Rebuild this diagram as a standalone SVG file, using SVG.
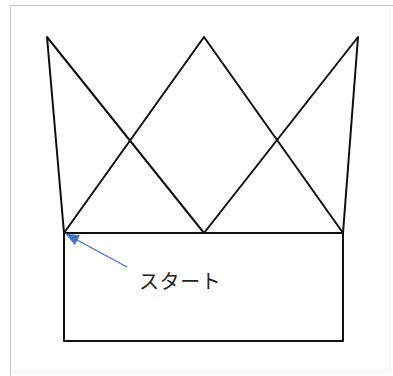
<svg xmlns="http://www.w3.org/2000/svg" width="393" height="376" viewBox="0 0 393 376">
<defs>
<style>
.ln{stroke:#111;stroke-width:2;fill:none;stroke-linecap:round;stroke-linejoin:round}
.lbl{font-family:"Noto Sans CJK JP","Noto Sans",sans-serif;font-size:20px;letter-spacing:0.6px;fill:#222}
</style>
<marker id="ah" viewBox="0 0 14 11" refX="13" refY="5.5" markerWidth="14" markerHeight="11" orient="auto" markerUnits="userSpaceOnUse">
<path d="M0,0 L14,5.5 L0,11 z" fill="#4472C4"/>
</marker>
</defs>
<rect width="393" height="376" fill="#fff"/>
<g id="frame">
<line x1="10.5" y1="5.5" x2="393" y2="5.5" stroke="#c4c4c4" stroke-width="1"/>
<line x1="10.5" y1="5.5" x2="10.5" y2="376" stroke="#c4c4c4" stroke-width="1"/>
<line x1="389.5" y1="6" x2="389.5" y2="372" stroke="#f0f0f0" stroke-width="1"/>
<line x1="11" y1="371.5" x2="389" y2="371.5" stroke="#f3f0ec" stroke-width="1"/>
</g>
<g id="crown">
<polyline class="ln" points="64,233 47,37 204,233 358,37 343,233"/>
<polyline class="ln" points="64,233 204,37 343,233"/>
<line class="ln" x1="64" y1="233" x2="343" y2="233"/>
</g>
<g id="base">
<rect class="ln" x="64" y="233" width="279" height="108"/>
</g>
<g id="connectors">
<line x1="127" y1="267" x2="66" y2="234" stroke="#4472C4" stroke-width="1.3" marker-end="url(#ah)"/>
</g>
<g id="label">
<text class="lbl" x="139" y="289">スタート</text>
</g>
</svg>
